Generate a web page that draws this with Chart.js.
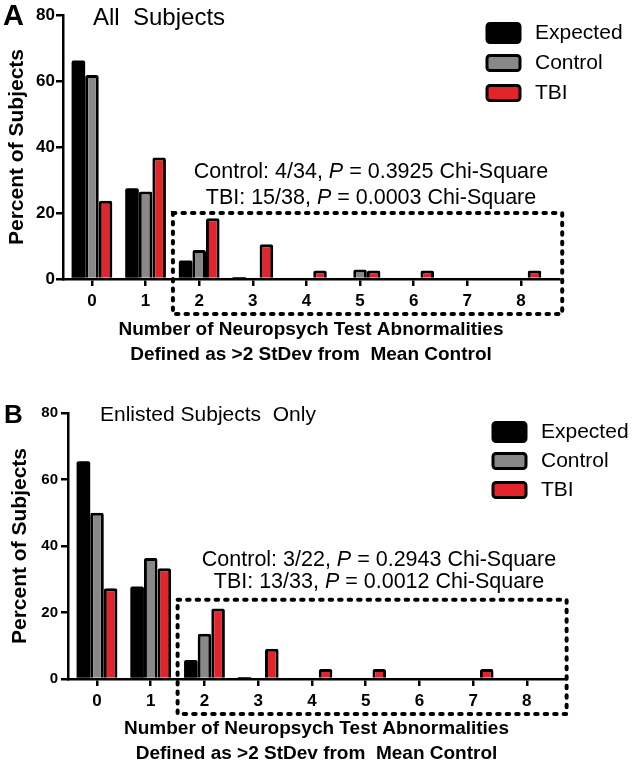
<!DOCTYPE html>
<html>
<head>
<meta charset="utf-8">
<script src="https://cdn.jsdelivr.net/npm/chart.js@4/dist/chart.umd.min.js"></script>
<style>
  html, body { margin: 0; padding: 0; background: #fff; }
  #wrap { position: relative; width: 633px; height: 767px; }
  canvas { position: absolute; left: 0; }
</style>
</head>
<body>
<div id="wrap">
  <canvas id="chartA" width="633" height="385" style="top:0"></canvas>
  <canvas id="chartB" width="633" height="382" style="top:385px"></canvas>
</div>
<script>
// number of abnormal tests (x axis)
const categories = ["0", "1", "2", "3", "4", "5", "6", "7", "8"];
const seriesNames = ["Expected", "Control", "TBI"];
const yTicks = [0, 20, 40, 60, 80];

// Panel A - all subjects (percent)
const expectedA = [66.2, 27.5, 5.6, 0.6, 0, 0, 0, 0, 0];
const controlA = [61.8, 26.5, 8.8, 0, 0, 2.9, 0, 0, 0];
const tbiA = [23.7, 36.8, 18.4, 10.5, 2.6, 2.6, 2.6, 0, 2.6];

// Panel B - enlisted subjects only (percent)
const expectedB = [65.5, 27.8, 5.7, 0.6, 0, 0, 0, 0, 0];
const controlB = [50.0, 36.4, 13.6, 0, 0, 0, 0, 0, 0];
const tbiB = [27.3, 33.3, 21.2, 9.1, 3.0, 3.0, 0, 3.0, 0];

const FONT = '"Liberation Sans", Arial, sans-serif';
const fills = ["#000000", "#888888", "#e3242b"];

// draws the letter, title, stats text, legend and dotted box
const panelDecor = {
  id: "panelDecor",
  afterDraw(chart, args, o) {
    const ctx = chart.ctx;
    const sx = chart.scales.x, sy = chart.scales.y;
    ctx.save();
    ctx.fillStyle = "#000";
    ctx.textBaseline = "middle";
    ctx.textAlign = "left";

    ctx.font = "bold " + o.letterSize + "px " + FONT;
    ctx.fillText(o.letter, o.letterPos[0], o.letterPos[1]);

    ctx.font = o.titleSize + "px " + FONT;
    ctx.fillText(o.title, o.titlePos[0], o.titlePos[1]);

    // stats lines, "P" in italics
    o.notes.forEach((line, k) => {
      const fonts = line.map((s, j) => (j === 1 ? "italic " : "") + "21.5px " + FONT);
      let w = 0;
      line.forEach((s, j) => { ctx.font = fonts[j]; w += ctx.measureText(s).width; });
      let xx = o.notesX - w / 2;
      const yy = o.notesY + k * o.notesGap;
      line.forEach((s, j) => {
        ctx.font = fonts[j];
        ctx.fillText(s, xx, yy);
        xx += ctx.measureText(s).width;
      });
    });

    // legend
    chart.data.datasets.forEach((ds, k) => {
      const cy = o.legendY + k * o.legendGap;
      const h = k === 0 ? 19 : 15;
      ctx.beginPath();
      ctx.roundRect(o.legendX, cy - h / 2, 33, h, 3);
      ctx.fillStyle = ds.backgroundColor;
      ctx.fill();
      ctx.lineWidth = 3;
      ctx.strokeStyle = "#000";
      ctx.stroke();
      ctx.fillStyle = "#000";
      ctx.font = "21px " + FONT;
      ctx.fillText(ds.label, o.legendX + 48, cy);
    });

    // dotted box around 2+ abnormalities
    const b = o.box;
    const x1 = sx.getPixelForValue(b.x1), x2 = sx.getPixelForValue(b.x2);
    const y1 = sy.getPixelForValue(b.y1), y2 = sy.getPixelForValue(b.y2);
    ctx.beginPath();
    ctx.setLineDash([2.5, 7]);
    ctx.lineCap = "round";
    ctx.lineWidth = 4;
    ctx.strokeStyle = "#000";
    ctx.rect(x1, y1, x2 - x1, y2 - y1);
    ctx.stroke();
    ctx.restore();
  }
};

function makePanel(id, values, p) {
  const datasets = values.map((vals, k) => ({
    label: seriesNames[k],
    data: vals.map((v, i) => ({ x: i, y: v })),
    backgroundColor: fills[k],
    borderColor: "#000",
    borderWidth: k === 0 ? 0 : 3,
    borderRadius: 2,
    categoryPercentage: 0.76,
    barPercentage: 1.0
  }));

  new Chart(document.getElementById(id).getContext("2d"), {
    type: "bar",
    data: { datasets: datasets },
    plugins: [panelDecor],
    options: {
      responsive: false,
      animation: false,
      layout: { padding: p.padding },
      plugins: {
        legend: { display: false },
        tooltip: { enabled: false },
        panelDecor: p.decor
      },
      scales: {
        x: {
          type: "linear",
          offset: false,
          min: -0.54,
          max: 8.71,
          afterBuildTicks: s => { s.ticks = categories.map((c, i) => ({ value: i })); },
          afterFit: s => { s.height = p.xHeight; },
          grid: { offset: false, drawOnChartArea: false, drawTicks: true, tickLength: 7, color: "#000", lineWidth: 2.5 },
          border: { color: "#000", width: 2.5 },
          ticks: {
            color: "#000",
            padding: 5,
            maxRotation: 0,
            autoSkip: false,
            font: { family: FONT, size: 17, weight: "bold" },
            callback: v => categories[Math.round(v)]
          },
          title: {
            display: true,
            text: ["Number of Neuropsych Test Abnormalities", "Defined as >2 StDev from  Mean Control"],
            color: "#000",
            font: { family: FONT, size: 19, weight: "bold", lineHeight: 25 / 19 },
            padding: { top: 0, bottom: p.xTitlePad }
          }
        },
        y: {
          min: 0,
          max: 80,
          afterBuildTicks: s => { s.ticks = yTicks.map(v => ({ value: v })); },
          afterFit: s => { s.width = p.yWidth; },
          grid: { drawOnChartArea: false, drawTicks: true, tickLength: 7, color: "#000", lineWidth: 2.5 },
          border: { color: "#000", width: 2.5 },
          ticks: {
            color: "#000",
            padding: p.yTickPad,
            font: { family: FONT, size: p.yTickSize, weight: "bold" }
          },
          title: {
            display: true,
            text: "Percent of Subjects",
            color: "#000",
            font: { family: FONT, size: 21, weight: "bold" },
            padding: { top: p.yTitlePad, bottom: 0 }
          }
        }
      }
    }
  });
}

document.addEventListener("DOMContentLoaded", () => {
  makePanel("chartA", [expectedA, controlA, tbiA], {
    padding: { top: 15, right: 74, bottom: 0, left: 0 },
    yWidth: 63, xHeight: 106, xTitlePad: 18, yTitlePad: 5, yTickPad: 1, yTickSize: 17,
    decor: {
      letter: "A", letterSize: 29, letterPos: [3, 17],
      title: "All  Subjects", titleSize: 24, titlePos: [93, 18],
      notes: [["Control: 4/34, ", "P", " = 0.3925 Chi-Square"], ["TBI: 15/38, ", "P", " = 0.0003 Chi-Square"]],
      notesX: 371, notesY: 172, notesGap: 26,
      legendX: 487, legendY: 33, legendGap: 30,
      box: { x1: 1.51, x2: 8.77, y1: 20, y2: -10.6 }
    }
  });

  makePanel("chartB", [expectedB, controlB, tbiB], {
    padding: { top: 28, right: 68, bottom: 0, left: 0 },
    yWidth: 68, xHeight: 88, xTitlePad: 0.5, yTitlePad: 8, yTickPad: 3, yTickSize: 15,
    decor: {
      letter: "B", letterSize: 26, letterPos: [4, 31],
      title: "Enlisted Subjects  Only", titleSize: 21, titlePos: [100, 30],
      notes: [["Control: 3/22, ", "P", " = 0.2943 Chi-Square"], ["TBI: 13/33, ", "P", " = 0.0012 Chi-Square"]],
      notesX: 379, notesY: 175, notesGap: 22,
      legendX: 493, legendY: 47, legendGap: 29,
      box: { x1: 1.5, x2: 8.74, y1: 23.8, y2: -10.5 }
    }
  });
});
</script>
</body>
</html>
